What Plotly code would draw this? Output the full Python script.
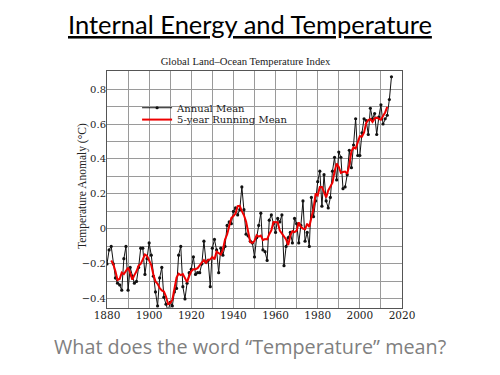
import plotly.graph_objects as go

years = list(range(1880, 2016))
annual_mean = [
    -0.20, -0.12, -0.10, -0.20, -0.28, -0.31, -0.32, -0.35, -0.17, -0.10,
    -0.35, -0.22, -0.27, -0.31, -0.30, -0.22, -0.11, -0.11, -0.26, -0.17,
    -0.08, -0.15, -0.27, -0.36, -0.44, -0.28, -0.22, -0.39, -0.43, -0.47,
    -0.42, -0.44, -0.36, -0.34, -0.15, -0.10, -0.33, -0.40, -0.31, -0.25,
    -0.23, -0.16, -0.26, -0.25, -0.25, -0.20, -0.07, -0.19, -0.18, -0.33,
    -0.11, -0.06, -0.12, -0.25, -0.11, -0.15, -0.10, 0.02, 0.04, 0.03,
    0.10, 0.12, 0.08, 0.11, 0.24, 0.11, -0.03, -0.04, -0.07, -0.08,
    -0.16, -0.05, 0.02, 0.09, -0.12, -0.13, -0.18, 0.05, 0.08, 0.03,
    -0.02, 0.06, 0.04, 0.08, -0.21, -0.10, -0.05, -0.02, -0.08, 0.06,
    0.03, -0.08, 0.02, 0.16, -0.07, -0.02, -0.10, 0.18, 0.07, 0.16,
    0.27, 0.33, 0.13, 0.31, 0.16, 0.12, 0.18, 0.33, 0.41, 0.28,
    0.44, 0.41, 0.23, 0.24, 0.31, 0.45, 0.35, 0.48, 0.63, 0.42,
    0.42, 0.55, 0.63, 0.62, 0.54, 0.69, 0.63, 0.66, 0.54, 0.64,
    0.71, 0.60, 0.63, 0.65, 0.74, 0.87,
]

running_years = list(range(1882, 2014))
running_mean = [
    -0.180, -0.202, -0.242, -0.292, -0.286, -0.250, -0.258, -0.238,
    -0.222, -0.250, -0.290, -0.264, -0.242, -0.210, -0.200, -0.174, -0.146, -0.154,
    -0.186, -0.206, -0.260, -0.300, -0.314, -0.338, -0.352, -0.358, -0.386, -0.430,
    -0.424, -0.406, -0.342, -0.278, -0.256, -0.264, -0.258, -0.278, -0.304, -0.270,
    -0.242, -0.230, -0.230, -0.224, -0.206, -0.192, -0.178, -0.194, -0.176, -0.174,
    -0.160, -0.174, -0.130, -0.138, -0.146, -0.118, -0.060, -0.032, 0.018, 0.062,
    0.074, 0.088, 0.130, 0.132, 0.102, 0.078, 0.042, -0.022, -0.076, -0.080,
    -0.068, -0.036, -0.044, -0.038, -0.064, -0.058, -0.060, -0.030, -0.008, 0.040,
    0.038, 0.038, -0.010, -0.026, -0.048, -0.060, -0.092, -0.038, -0.012, -0.018,
    -0.010, 0.038, 0.012, 0.002, -0.002, 0.030, 0.012, 0.058, 0.116, 0.202,
    0.192, 0.240, 0.240, 0.210, 0.180, 0.220, 0.240, 0.264, 0.328, 0.374,
    0.354, 0.320, 0.326, 0.328, 0.316, 0.366, 0.444, 0.466, 0.460, 0.500,
    0.530, 0.528, 0.552, 0.606, 0.622, 0.628, 0.612, 0.632, 0.636, 0.630,
    0.624, 0.646, 0.666, 0.698,
]

x_tick_vals = [1880, 1900, 1920, 1940, 1960, 1980, 2000, 2020]
y_tick_vals = [-0.4, -0.2, 0, 0.2, 0.4, 0.6, 0.8]
y_tick_text = ["\u22120.4", "\u22120.2", "0", "0.2", "0.4", "0.6", "0.8"]

fig = go.Figure()
fig.add_trace(go.Scatter(
    x=years, y=annual_mean, mode="lines+markers", name="Annual Mean",
    line=dict(color="#111", width=1),
    marker=dict(color="#111", size=3.2, symbol="circle"),
    legend="legend",
))
fig.add_trace(go.Scatter(
    x=running_years, y=running_mean, mode="lines", name="5-year Running Mean",
    line=dict(color="#ee0000", width=2),
    legend="legend2",
))

grid_color = "#9a9a9a"
legend_font = dict(family="DejaVu Serif", size=10, color="#222")
fig.update_layout(
    width=492, height=367,
    paper_bgcolor="white", plot_bgcolor="white",
    margin=dict(l=99, r=98, t=63, b=67),
    showlegend=True,
    legend=dict(x=0.102, y=0.845, xanchor="left", yanchor="middle",
                bgcolor="rgba(0,0,0,0)", borderwidth=0,
                font=legend_font, itemwidth=30, tracegroupgap=0),
    legend2=dict(x=0.102, y=0.795, xanchor="left", yanchor="middle",
                 bgcolor="rgba(0,0,0,0)", borderwidth=0,
                 font=legend_font, itemwidth=30, tracegroupgap=0),
    xaxis=dict(
        range=[1880, 2020], tickmode="array", tickvals=x_tick_vals,
        showgrid=True, gridcolor=grid_color, gridwidth=1,
        minor=dict(dtick=10, showgrid=True, gridcolor=grid_color, gridwidth=1),
        showline=True, linecolor="#555", linewidth=1, mirror=True,
        ticks="", zeroline=False, ticklabelstandoff=-3,
        tickfont=dict(family="DejaVu Serif", size=10.5, color="#222"),
    ),
    yaxis=dict(
        range=[-0.452, 0.903], tickmode="array", tickvals=y_tick_vals,
        ticktext=y_tick_text,
        showgrid=True, gridcolor=grid_color, gridwidth=1,
        minor=dict(dtick=0.1, tick0=0, showgrid=True, gridcolor=grid_color, gridwidth=1),
        showline=True, linecolor="#555", linewidth=1, mirror=True,
        ticks="", zeroline=False, ticklabelstandoff=-2,
        tickfont=dict(family="DejaVu Serif", size=10, color="#222"),
    ),
    title=dict(text="Global Land\u2013Ocean Temperature Index",
               x=(245.5 - 8) / 492, xanchor="center", y=1 - (61 - 8) / 367, yanchor="middle",
               font=dict(family="Liberation Serif", size=10.7, color="#222")),
)

fig.add_annotation(
    text="Temperature Anomaly (\u00b0C)", xref="paper", yref="paper",
    x=(82 - 107) / 295, y=0.5 + (189.5 - 186) / 237, xanchor="center", yanchor="middle",
    textangle=-90, showarrow=False,
    font=dict(family="Liberation Serif", size=11.5, color="#222"),
)
fig.add_annotation(
    text="<u>Internal Energy and Temperature</u>", xref="paper", yref="paper",
    x=0.5 + (249.5 - 254.5) / 295, y=1 + (71 - 24) / 237,
    xanchor="center", yanchor="middle",
    showarrow=False, font=dict(family="Lato", size=25.5, color="black"),
)
fig.add_annotation(
    text="What does the word \u201cTemperature\u201d mean?", xref="paper", yref="paper",
    x=0.5 + (250 - 254.5) / 295, y=-(346 - 308) / 237, xanchor="center", yanchor="middle",
    showarrow=False, font=dict(family="Open Sans", size=19.8, color="#7f7f7f"),
)

fig.write_html("out.html")
